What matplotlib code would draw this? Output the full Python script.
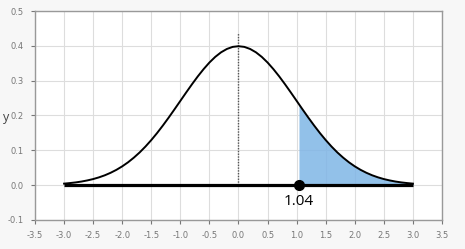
import numpy as np
import matplotlib.pyplot as plt

# normal curve, right half (step 0.1); left half mirrors it
half_x = [0.0, 0.1, 0.2, 0.3, 0.4, 0.5, 0.6, 0.7, 0.8, 0.9, 1.0,
          1.1, 1.2, 1.3, 1.4, 1.5, 1.6, 1.7, 1.8, 1.9, 2.0,
          2.1, 2.2, 2.3, 2.4, 2.5, 2.6, 2.7, 2.8, 2.9, 3.0]
half_y = [0.3989, 0.3970, 0.3910, 0.3814, 0.3683, 0.3521, 0.3332, 0.3123, 0.2897, 0.2661, 0.2420,
          0.2179, 0.1942, 0.1714, 0.1497, 0.1295, 0.1109, 0.0940, 0.0790, 0.0656, 0.0540,
          0.0440, 0.0355, 0.0283, 0.0224, 0.0175, 0.0136, 0.0104, 0.0079, 0.0060, 0.0044]
z_value = 1.04
z_height = 0.2323
mean_line_top = 0.437
x_ticks = [-3.5, -3.0, -2.5, -2.0, -1.5, -1.0, -0.5, 0.0, 0.5, 1.0, 1.5, 2.0, 2.5, 3.0, 3.5]
y_ticks = [-0.1, 0.0, 0.1, 0.2, 0.3, 0.4, 0.5]

hx = np.array(half_x)
hy = np.array(half_y)
cx = np.concatenate([-hx[:0:-1], hx])
cy = np.concatenate([hy[:0:-1], hy])
shade_x = np.concatenate([[z_value], hx[hx > z_value]])
shade_y = np.concatenate([[z_height], hy[hx > z_value]])

fig = plt.figure(figsize=(4.65, 2.49), dpi=100, facecolor='#f7f7f7')
ax = fig.add_axes([0.0753, 0.1165, 0.8752, 0.8393])
ax.set_facecolor('white')

ax.fill_between(shade_x, 0, shade_y, color='#7fb6e6', alpha=0.85, lw=0, zorder=2)
ax.plot([0, 0], [0, mean_line_top], color='#555555', lw=1, ls=(0, (1, 1)), zorder=3)
ax.plot(cx, cy, color='black', lw=1.4, zorder=4)
ax.plot([cx[0], cx[-1]], [0, 0], color='black', lw=2.3, zorder=4, solid_capstyle='butt')
ax.plot([z_value], [0], 'o', color='black', ms=7, zorder=5)
ax.text(z_value, -0.025, '1.04', ha='center', va='top', fontsize=11, family='Open Sans', zorder=5)

ax.set_xlim(-3.5, 3.5)
ax.set_ylim(-0.1, 0.5)
ax.set_xticks(x_ticks)
ax.set_yticks(y_ticks)
ax.set_xticklabels(['%.1f' % t for t in x_ticks])
ax.set_yticklabels(['%.1f' % t for t in y_ticks])
ax.grid(True, color='#dddddd', lw=0.8)
ax.set_axisbelow(True)
ax.tick_params(labelsize=6, colors='#777777', length=3, width=0.8, pad=5)
for s in ax.spines.values():
    s.set_color('#999999')
    s.set_linewidth(1)
fig.text(0.006, 0.53, 'y', fontsize=9, color='#444444', family='Open Sans', va='center')

fig.savefig('out.png', dpi=100, facecolor=fig.get_facecolor())
